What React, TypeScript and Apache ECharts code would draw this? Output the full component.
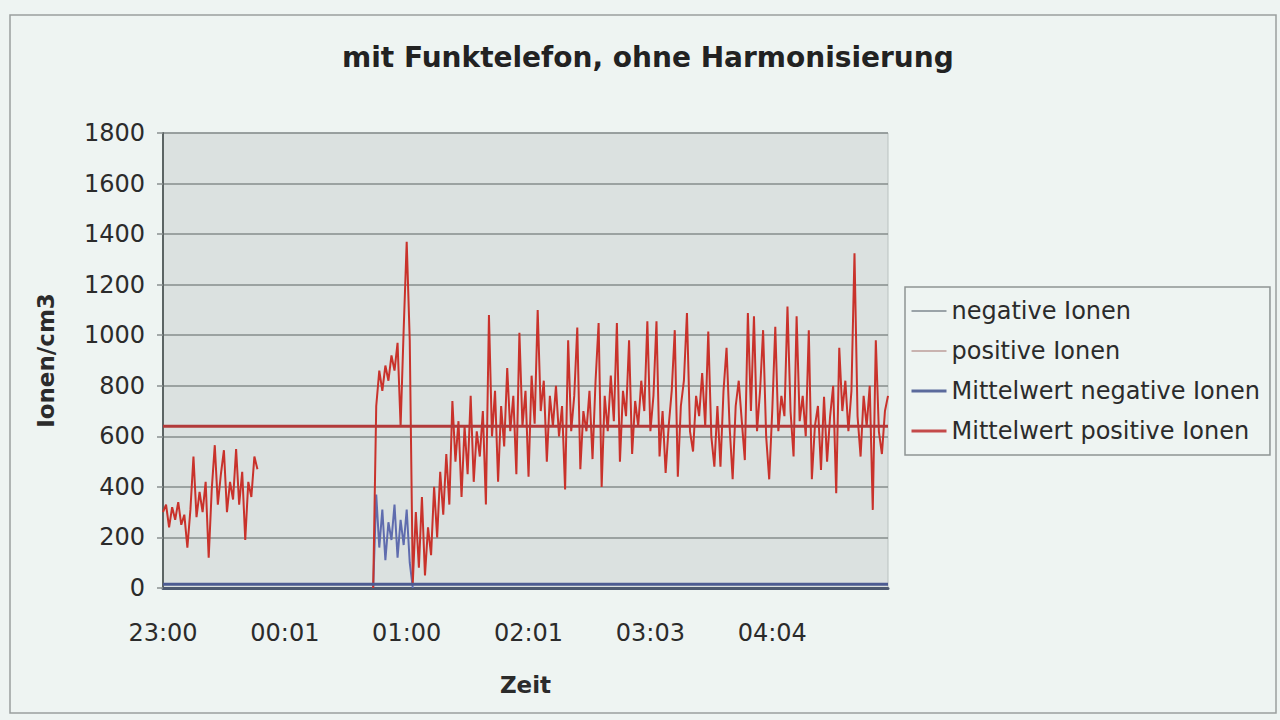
import React, { useEffect, useRef } from 'react';
import * as echarts from 'echarts';

// ---- data ----
const chartTitle = 'mit Funktelefon, ohne Harmonisierung';
const xAxisName = 'Zeit';
const yAxisName = 'Ionen/cm3';
const xTickLabels = ['23:00', '00:01', '01:00', '02:01', '03:03', '04:04'];
const samplesPerTick = 40;
const lastSample = 238;
const yMin = 0;
const yMax = 1800;
const yStep = 200;

const seriesNames = [
  'negative Ionen',
  'positive Ionen',
  'Mittelwert negative Ionen',
  'Mittelwert positive Ionen',
];

// positive ions, first block (samples 0..31)
const positiveEarly = [
  300, 330, 240, 320, 270, 340, 250, 290, 160, 310, 520, 280, 380, 300, 420, 120,
  390, 565, 330, 450, 545, 300, 420, 350, 550, 330, 460, 190, 420, 360, 520, 470,
];

// positive ions, second block starting at sample 69
const positiveLateStart = 69;
const positiveLate = [
  0, 720, 860, 780, 880, 820, 920, 860, 970, 640, 1020, 1370, 980, 20, 300, 80,
  360, 50, 240, 130, 400, 200, 460, 290, 530, 330, 740, 500, 660, 360, 640, 450,
  760, 420, 620,
  520, 700, 330, 1080, 600, 780, 420, 720, 560, 870, 620, 760, 450, 1010, 640, 780,
  440, 840, 650, 1100, 700, 820, 500, 760, 640, 800, 600, 720, 390, 980, 620, 760,
  1030, 470, 700, 620, 780, 510, 820, 1048, 400, 760, 620, 840, 660, 1048, 500, 780,
  680, 980, 530, 740, 640, 820, 700, 1055, 620, 760, 1055, 520, 700, 455, 640, 780,
  1020, 440, 720, 820, 1088, 620, 540, 760, 680, 850, 640, 1015, 600, 480, 720, 480,
  780, 950, 640, 430, 720, 820, 660, 506, 1088, 700, 1075, 620, 780, 1020, 600, 430,
  700, 1033, 620, 760, 680, 1114, 700, 520, 1075, 660, 760, 600, 1020, 430, 640, 720,
  467, 756, 500, 680, 800, 375, 950, 700, 820, 620, 780, 1324, 680, 520, 760, 640,
  800, 309, 980, 620, 530, 700, 760,
];

// negative ions (only measured around 01:00), starting at sample 69
const negativeStart = 69;
const negativeValues = [0, 370, 160, 310, 110, 260, 190, 330, 120, 270, 170, 310, 100, 0];

const meanNegative = 15;
const meanPositive = 640;

// ---- styles ----
const FONT = 'DejaVu Sans';
const TEXT = '#2b2b2b';

export default function App() {
  const ref = useRef<HTMLDivElement>(null);

  useEffect(() => {
    document.body.style.margin = '0';
    const chart = echarts.init(ref.current as HTMLDivElement, null, { renderer: 'svg' });

    const positiveData: any[] = [
      ...positiveEarly.map((v, i) => [i, v]),
      [positiveEarly.length, null],
      ...positiveLate.map((v, i) => [positiveLateStart + i, v]),
    ];
    const negativeData = negativeValues.map((v, i) => [negativeStart + i, v]);
    const meanNegData = [[0, meanNegative], [lastSample, meanNegative]];
    const meanPosData = [[0, meanPositive], [lastSample, meanPositive]];

    const legendColors = ['#9aa3a8', '#c9b3b0', '#5b6a9c', '#c44a4a'];
    const legendWidths = [2, 2, 3, 3];

    chart.setOption({
      animation: false,
      backgroundColor: '#eef4f2',
      textStyle: { fontFamily: FONT },
      title: {
        text: chartTitle,
        left: 342,
        top: 43,
        padding: 0,
        textStyle: { fontFamily: FONT, fontSize: 28, fontWeight: 'bold', color: '#222' },
      },
      graphic: [
        {
          type: 'rect',
          shape: { x: 10, y: 15, width: 1266, height: 698 },
          style: { fill: 'none', stroke: '#9a9f9e', lineWidth: 1.5 },
          silent: true,
        },
      ],
      legend: {
        orient: 'vertical',
        left: 905,
        top: 287,
        padding: [12, 10, 12, 5],
        itemGap: 16,
        itemWidth: 35,
        itemHeight: 14,
        borderColor: '#8e9494',
        borderWidth: 1.5,
        itemStyle: { opacity: 0 },
        textStyle: { fontFamily: FONT, fontSize: 24, color: TEXT, lineHeight: 24 },
        data: seriesNames.map((name, i) => ({
          name,
          itemStyle: { opacity: 0 },
          lineStyle: { color: legendColors[i], width: legendWidths[i] },
        })),
      },
      grid: {
        left: 163,
        right: 392,
        top: 133,
        bottom: 132,
        show: true,
        backgroundColor: '#dbe1e0',
        borderColor: '#b9c1c0',
        borderWidth: 1,
      },
      xAxis: {
        type: 'value',
        min: 0,
        max: lastSample,
        interval: samplesPerTick,
        name: xAxisName,
        nameLocation: 'middle',
        nameGap: 85,
        nameTextStyle: { fontFamily: FONT, fontSize: 23, fontWeight: 'bold', color: TEXT },
        axisLine: { show: true, onZero: false, lineStyle: { color: '#4d5970', width: 3 } },
        axisTick: { show: false },
        splitLine: { show: false },
        axisLabel: {
          margin: 33,
          fontFamily: FONT,
          fontSize: 24,
          color: TEXT,
          showMaxLabel: false,
          formatter: (v: number) => {
            const k = v / samplesPerTick;
            return Number.isInteger(k) && xTickLabels[k] !== undefined ? xTickLabels[k] : '';
          },
        },
      },
      yAxis: {
        type: 'value',
        min: yMin,
        max: yMax,
        interval: yStep,
        name: yAxisName,
        nameLocation: 'middle',
        nameGap: 106,
        nameTextStyle: { fontFamily: FONT, fontSize: 23, fontWeight: 'bold', color: TEXT },
        axisLine: { show: true, lineStyle: { color: '#5c6464', width: 2 } },
        axisTick: { show: true, length: 6, lineStyle: { color: '#8a9090', width: 1.5 } },
        splitLine: { show: true, lineStyle: { color: '#868c8c', width: 1.5 } },
        axisLabel: {
          margin: 18,
          fontFamily: FONT,
          fontSize: 24,
          color: TEXT,
          formatter: (v: number) => String(v),
        },
      },
      series: [
        {
          name: seriesNames[0],
          type: 'line',
          data: negativeData,
          symbol: 'none',
          lineStyle: { color: '#5f6cae', width: 2 },
          itemStyle: { color: '#5f6cae' },
        },
        {
          name: seriesNames[1],
          type: 'line',
          data: positiveData,
          symbol: 'none',
          connectNulls: false,
          lineStyle: { color: '#c9322b', width: 2 },
          itemStyle: { color: '#c9322b' },
        },
        {
          name: seriesNames[2],
          type: 'line',
          data: meanNegData,
          symbol: 'none',
          lineStyle: { color: '#4c5b92', width: 3 },
          itemStyle: { color: '#4c5b92' },
        },
        {
          name: seriesNames[3],
          type: 'line',
          data: meanPosData,
          symbol: 'none',
          lineStyle: { color: '#b23a3a', width: 3 },
          itemStyle: { color: '#b23a3a' },
        },
      ],
    });

    return () => chart.dispose();
  }, []);

  return <div ref={ref} style={{ width: 1280, height: 720 }} />;
}
